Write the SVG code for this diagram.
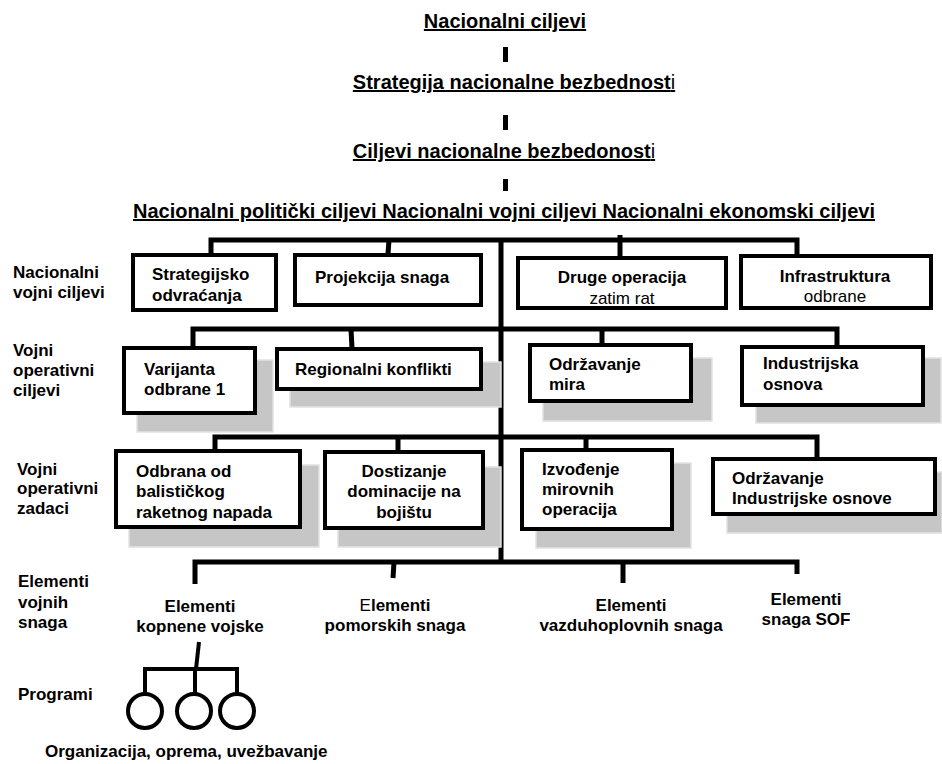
<svg xmlns="http://www.w3.org/2000/svg" width="942" height="764" viewBox="0 0 942 764">
<style>
text{font-family:"Liberation Sans",Arial,Helvetica,sans-serif;fill:#000}
.t{font-size:20px;font-weight:bold;text-decoration:underline}
.b{font-size:17px;font-weight:bold}
.r{font-size:17px;font-weight:normal}
.lbl{font-size:17px;font-weight:bold}
.box{fill:#fff;stroke:#000;stroke-width:4}
.sh{fill:#c6c6c6;stroke:#e2e2e2;stroke-width:1.5}
.ln{fill:none;stroke:#000;stroke-width:5;stroke-linecap:butt;stroke-linejoin:miter}
.thin{fill:none;stroke:#000;stroke-width:4}
.c{text-anchor:middle}
</style>
<rect width="942" height="764" fill="#fff"/>

<g id="connectors">
  <rect x="503" y="47" width="5" height="15" fill="#000"/>
  <rect x="503" y="115" width="5" height="15" fill="#000"/>
  <rect x="503" y="179" width="5" height="12" fill="#000"/>
  <!-- row 1 bus -->
  <path class="ln" d="M211,254 V240 H797 V254"/>
  <path class="ln" d="M389,240 L388,254"/>
  <path class="ln" d="M620,235 V257"/>
  <!-- trunk -->
  <path class="ln" d="M501,240 V562"/>
  <!-- row 2 bus -->
  <path class="ln" d="M193,347 V329 H837 V346"/>
  <path class="ln" d="M351,329 L352,348"/>
  <path class="ln" d="M602,329 V344"/>
  <!-- row 3 bus -->
  <path class="ln" d="M215,450 V437 H817 V458"/>
  <path class="ln" d="M398,437 V451"/>
  <path class="ln" d="M586,437 V449"/>
  <!-- row 4 bus -->
  <path class="ln" d="M195,584 V562 H797 V574"/>
  <path class="ln" d="M394,562 L393,578"/>
  <path class="ln" d="M623,562 V583"/>
  <!-- programs -->
  <path class="thin" d="M199,642 L196,669"/>
  <path class="thin" d="M145,694 V669 H237 V694"/>
  <path class="thin" d="M195,669 V694"/>
</g>

<g id="title1"><text class="t c" x="505" y="28">Nacionalni ciljevi</text></g>
<g id="title2"><text class="t c" x="514" y="89">Strategija nacionalne bezbednost<tspan font-weight="normal">i</tspan></text></g>
<g id="title3"><text class="t c" x="504" y="158">Ciljevi nacionalne bezbedonost<tspan font-weight="normal">i</tspan></text></g>
<g id="title4"><text class="t" x="133" y="218" textLength="742" lengthAdjust="spacingAndGlyphs">Nacionalni politički ciljevi Nacionalni vojni ciljevi Nacionalni ekonomski ciljevi</text></g>

<g id="label-row1"><text class="lbl" x="13" y="278">Nacionalni</text><text class="lbl" x="13" y="298">vojni ciljevi</text></g>
<g id="label-row2"><text class="lbl" x="13" y="356">Vojni</text><text class="lbl" x="13" y="376">operativni</text><text class="lbl" x="13" y="396">ciljevi</text></g>
<g id="label-row3"><text class="lbl" x="17" y="475">Vojni</text><text class="lbl" x="17" y="494">operativni</text><text class="lbl" x="17" y="514">zadaci</text></g>
<g id="label-row4"><text class="lbl" x="18" y="587">Elementi</text><text class="lbl" x="18" y="608">vojnih</text><text class="lbl" x="18" y="628">snaga</text></g>
<g id="label-row5"><text class="lbl" x="18" y="700">Programi</text></g>

<g id="n-strategijsko">
  <rect class="box" x="133" y="255" width="143" height="55"/>
  <text class="b" x="152" y="280">Strategijsko</text><text class="b" x="152" y="301">odvraćanja</text>
</g>
<g id="n-projekcija">
  <rect class="box" x="295" y="255" width="186" height="50"/>
  <text class="b" x="315" y="283">Projekcija snaga</text>
</g>
<g id="n-druge">
  <rect class="box" x="518" y="258" width="208" height="50"/>
  <text class="b c" x="622" y="283">Druge operacija</text><text class="r c" x="622" y="304">zatim rat</text>
</g>
<g id="n-infrastruktura">
  <rect class="box" x="741" y="256" width="190" height="52"/>
  <text class="b c" x="835" y="282">Infrastruktura</text><text class="r c" x="835" y="302">odbrane</text>
</g>

<g id="n-varijanta">
  <rect class="sh" x="137" y="360" width="136" height="72"/>
  <rect class="box" x="124" y="348" width="131" height="65"/>
  <text class="b" x="144" y="375">Varijanta</text><text class="b" x="144" y="395">odbrane 1</text>
</g>
<g id="n-regionalni">
  <rect class="sh" x="290" y="362" width="211" height="45"/>
  <rect class="box" x="277" y="349" width="204" height="40"/>
  <text class="b" x="295" y="375">Regionalni konflikti</text>
</g>
<g id="n-mir">
  <rect class="sh" x="543" y="358" width="169" height="63"/>
  <rect class="box" x="530" y="345" width="161" height="56"/>
  <text class="b" x="549" y="370">Održavanje</text><text class="b" x="549" y="390">mira</text>
</g>
<g id="n-industrijska">
  <rect class="sh" x="756" y="358" width="185" height="65"/>
  <rect class="box" x="742" y="347" width="181" height="58"/>
  <text class="b" x="763" y="369">Industrijska</text><text class="b" x="763" y="390">osnova</text>
</g>

<g id="n-odbrana">
  <rect class="sh" x="129" y="465" width="190" height="82"/>
  <rect class="box" x="116" y="451" width="184" height="76"/>
  <text class="b" x="136" y="477">Odbrana od</text><text class="b" x="136" y="497">balističkog</text><text class="b" x="136" y="518">raketnog napada</text>
</g>
<g id="n-dostizanje">
  <rect class="sh" x="338" y="467" width="163" height="80"/>
  <rect class="box" x="325" y="452" width="158" height="76"/>
  <text class="b c" x="404" y="477">Dostizanje</text><text class="b c" x="404" y="497">dominacije na</text><text class="b c" x="404" y="518">bojištu</text>
</g>
<g id="n-izvodjenje">
  <rect class="sh" x="536" y="463" width="155" height="85"/>
  <rect class="box" x="522" y="450" width="150" height="79"/>
  <text class="b" x="542" y="475">Izvođenje</text><text class="b" x="542" y="495">mirovnih</text><text class="b" x="542" y="515">operacija</text>
</g>
<g id="n-odrzavanje-ind">
  <rect class="sh" x="727" y="472" width="215" height="61"/>
  <rect class="box" x="713" y="459" width="222" height="55"/>
  <text class="b" x="732" y="484">Održavanje</text><text class="b" x="732" y="504">Industrijske osnove</text>
</g>

<g id="n-kopnene"><text class="b c" x="200" y="612">Elementi</text><text class="b c" x="200" y="632">kopnene vojske</text></g>
<g id="n-pomorske"><text class="b c" x="395" y="611"><tspan font-weight="normal">E</tspan>lementi</text><text class="b c" x="395" y="631">pomorskih snaga</text></g>
<g id="n-vazduhoplovne"><text class="b c" x="631" y="611">Elementi</text><text class="b c" x="631" y="631">vazduhoplovnih snaga</text></g>
<g id="n-sof"><text class="b c" x="806" y="605">Elementi</text><text class="b c" x="806" y="625">snaga SOF</text></g>

<g id="n-programi">
  <circle class="thin" cx="145" cy="711" r="17"/>
  <circle class="thin" cx="194" cy="711" r="17"/>
  <circle class="thin" cx="237" cy="711" r="17"/>
  <text class="b" x="45" y="757">Organizacija, oprema, uvežbavanje</text>
</g>
</svg>
